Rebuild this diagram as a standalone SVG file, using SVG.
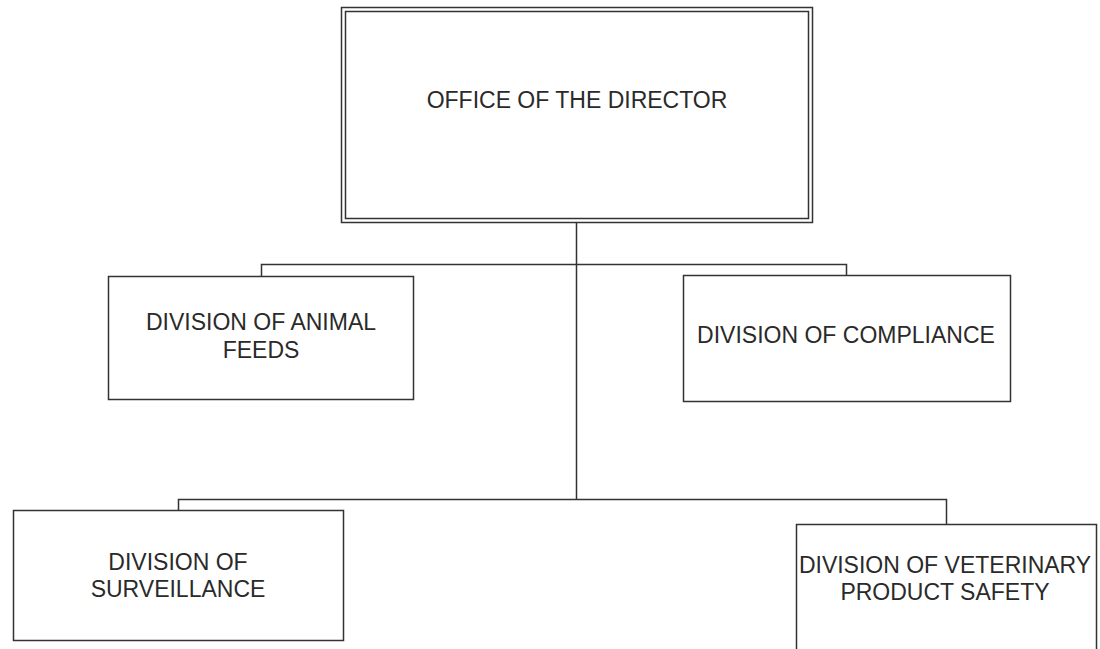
<svg xmlns="http://www.w3.org/2000/svg" width="1100" height="649" viewBox="0 0 1100 649">
<style>
.box{fill:#fff;stroke:#333;stroke-width:1.5}
.ln{fill:none;stroke:#333;stroke-width:1.5}
text{font-family:"Liberation Sans",Arial,sans-serif;font-size:23px;fill:#2a2a2a;text-anchor:middle}
</style>
<rect width="1100" height="649" fill="#fff"/>
<g id="connectors">
<path class="ln" d="M576.5 223V499"/>
<path class="ln" d="M261.5 276V264.5H846.5V275"/>
<path class="ln" d="M178.5 510V499.5H946.5V524"/>
</g>
<g id="director">
<rect class="box" x="341.5" y="7.5" width="471" height="215"/>
<rect class="box" x="345.5" y="11.5" width="463" height="207"/>
<text x="577" y="108">OFFICE OF THE DIRECTOR</text>
</g>
<g id="animal-feeds">
<rect class="box" x="108.5" y="276.5" width="305" height="123"/>
<text x="261" y="330">DIVISION OF ANIMAL</text>
<text x="261" y="358">FEEDS</text>
</g>
<g id="compliance">
<rect class="box" x="683.5" y="275.5" width="327" height="126"/>
<text x="846" y="343">DIVISION OF COMPLIANCE</text>
</g>
<g id="surveillance">
<rect class="box" x="13.5" y="510.5" width="330" height="130"/>
<text x="178" y="570">DIVISION OF</text>
<text x="178" y="597">SURVEILLANCE</text>
</g>
<g id="veterinary">
<rect class="box" x="796.5" y="524.5" width="300" height="140"/>
<text x="945" y="573">DIVISION OF VETERINARY</text>
<text x="945" y="600">PRODUCT SAFETY</text>
</g>
</svg>
